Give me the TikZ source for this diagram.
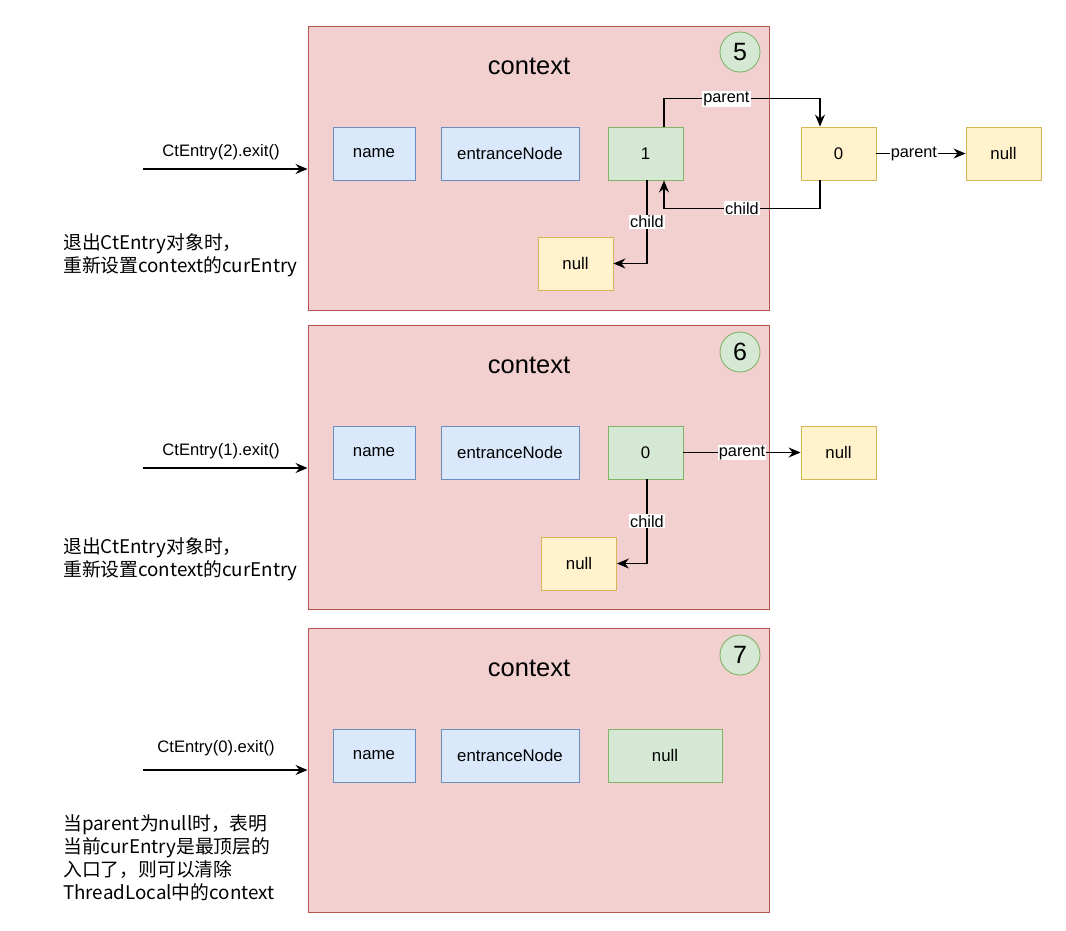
\documentclass[tikz,border=0pt]{standalone}
\usepackage{fontspec}
\setmainfont{Liberation Sans}
\newfontfamily\cjk{Noto Sans CJK SC}
\usetikzlibrary{arrows.meta}
\definecolor{pfill}{HTML}{F2D0D0}
\definecolor{pline}{HTML}{B85450}
\definecolor{bfill}{HTML}{DAE8FC}
\definecolor{bline}{HTML}{6C8EBF}
\definecolor{gfill}{HTML}{D5E8D4}
\definecolor{gline}{HTML}{82B366}
\definecolor{yfill}{HTML}{FFF2CC}
\definecolor{yline}{HTML}{D6B656}
\tikzset{
  panel/.style={draw=pline, fill=pfill, line width=0.9pt, minimum width=461pt, minimum height=284pt, inner sep=0pt},
  title/.style={font=\fontsize{25.5}{30}\selectfont},
  numc/.style={circle, draw=gline, fill=gfill, line width=0.9pt, minimum size=40pt, inner sep=0pt, font=\fontsize{25}{30}\selectfont},
  bbox/.style={draw=bline, fill=bfill, line width=0.9pt, minimum height=53pt, inner sep=0pt, font=\fontsize{16.8}{20}\selectfont},
  gbox/.style={draw=gline, fill=gfill, line width=0.9pt, minimum height=53pt, inner sep=0pt, font=\fontsize{16.8}{20}\selectfont},
  ybox/.style={draw=yline, fill=yfill, line width=0.9pt, minimum width=75pt, minimum height=53pt, inner sep=0pt, font=\fontsize{16.8}{20}\selectfont},
  arr/.style={draw=black, line width=1.3pt, -{Stealth[length=12pt,width=10pt,inset=4pt]}},
  lbl/.style={fill=white, inner sep=1pt, font=\fontsize{16.3}{19}\selectfont},
  calltxt/.style={font=\fontsize{16.6}{19}\selectfont},
  note/.style={anchor=west, align=left, inner sep=0pt, font=\cjk\fontsize{18.8}{23}\selectfont},
}
\begin{document}
\begin{tikzpicture}[x=1pt,y=-1pt]
\useasboundingbox (0,0) rectangle (1066,930);
% ---------- panel 5 ----------
\node[panel] (p1) at (538.5,168) {};
\node[title] (t1) at (529,66) {context};
\node[numc] (c1) at (740,52) {5};
\node[bbox, minimum width=82pt] (name1) at (374,153.5) {name};
\node[bbox, minimum width=138pt] (en1) at (510,153.5) {entranceNode};
\node[gbox, minimum width=75pt] (one) at (645.5,153.5) {1};
\node[ybox] (zero) at (838.5,153.5) {0};
\node[ybox] (nullA) at (1003.5,153.5) {null};
\node[ybox] (nullB) at (575.5,263.5) {null};
\draw[arr] ([xshift=18.5]one.north) -- ++(0,-28) -| node[pos=0.2,lbl]{parent} ([xshift=-18.5]zero.north);
\draw[arr] ([xshift=-18.5]zero.south) -- ++(0,28) -| node[pos=0.25,lbl]{child} ([xshift=18.5]one.south);
\draw[arr] ([xshift=1.5]one.south) |- node[pos=0.25,lbl]{child} (nullB.east);
\draw[arr] (zero.east) -- node[pos=0.42,lbl]{parent} (nullA.west);
\coordinate (s1) at (143,169);
\draw[arr] (s1) -- (s1 -| p1.west);
\node[calltxt] (l1) at (221,152) {CtEntry(2).exit()};
\node[note] (n1) at (63,255) {退出CtEntry对象时，\\重新设置context的curEntry};
% ---------- panel 6 ----------
\node[panel] (p2) at (538.5,467) {};
\node[title] (t2) at (529,365) {context};
\node[numc] (c2) at (740,352) {6};
\node[bbox, minimum width=82pt] (name2) at (374,452.5) {name};
\node[bbox, minimum width=138pt] (en2) at (510,452.5) {entranceNode};
\node[gbox, minimum width=75pt] (zero2) at (645.5,452.5) {0};
\node[ybox] (nullC) at (838.5,452.5) {null};
\node[ybox] (nullD) at (579,563.5) {null};
\draw[arr] (zero2.east) -- node[lbl]{parent} (nullC.west);
\draw[arr] ([xshift=1.5]zero2.south) |- node[pos=0.25,lbl]{child} (nullD.east);
\coordinate (s2) at (143,468);
\draw[arr] (s2) -- (s2 -| p2.west);
\node[calltxt] (l2) at (221,451) {CtEntry(1).exit()};
\node[note] (n2) at (63,559) {退出CtEntry对象时，\\重新设置context的curEntry};
% ---------- panel 7 ----------
\node[panel] (p3) at (538.5,770) {};
\node[title] (t3) at (529,668) {context};
\node[numc] (c3) at (740,655) {7};
\node[bbox, minimum width=82pt] (name3) at (374,755.5) {name};
\node[bbox, minimum width=138pt] (en3) at (510,755.5) {entranceNode};
\node[gbox, minimum width=114pt] (null3) at (665,755.5) {null};
\coordinate (s3) at (143,770);
\draw[arr] (s3) -- (s3 -| p3.west);
\node[calltxt] (l3) at (216,748) {CtEntry(0).exit()};
\node[note] (n3) at (63,858) {当parent为null时，表明\\当前curEntry是最顶层的\\入口了，则可以清除\\ThreadLocal中的context};
\end{tikzpicture}
\end{document}
